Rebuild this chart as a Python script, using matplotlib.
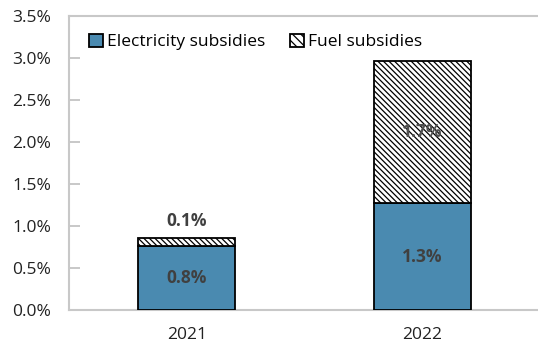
import matplotlib
matplotlib.use("Agg")
import matplotlib.pyplot as plt
from matplotlib.patches import Patch
import numpy as np

plt.rcParams['font.family'] = ['Open Sans', 'DejaVu Sans']
plt.rcParams['hatch.linewidth'] = 0.9

years = ["2021", "2022"]
electricity = [0.76, 1.27]
fuel = [0.10, 1.69]
elec_labels = ["0.8%", "1.3%"]
fuel_labels = ["0.1%", "1.7%"]
yticks = [0.0, 0.5, 1.0, 1.5, 2.0, 2.5, 3.0, 3.5]

blue = '#4a8ab0'
W, H = 538, 344
fig = plt.figure(figsize=(W/100, H/100), dpi=100)
ax = fig.add_axes([69/W, (H-310)/H, 471/W, 294/H])

x = np.arange(len(years))
bw = 0.41
ax.bar(x, electricity, bw, color=blue, edgecolor='black', linewidth=1.3, zorder=3)
ax.bar(x, fuel, bw, bottom=electricity, color='white', edgecolor='black',
       hatch='\\' * 6, linewidth=1.3, zorder=3)

ax.set_xlim(-0.5, 1.5)
ax.set_ylim(0, 3.5)
ax.set_yticks(yticks)
ax.set_yticklabels([f"{v:.1f}%" for v in yticks], fontsize=12.5, color='#222222')
ax.set_xticks(x)
ax.set_xticklabels(years, fontsize=12.5, color='#222222')
ax.tick_params(axis='y', direction='in', length=8, width=1.2, color='#bfbfbf', pad=13)
ax.tick_params(axis='x', length=0, pad=12)
for s in ['left', 'bottom', 'top', 'right']:
    ax.spines[s].set_color('#c8c8c8')
    ax.spines[s].set_linewidth(1.5)

lab_color = '#404040'
for i in range(len(years)):
    ax.text(x[i], electricity[i]/2, elec_labels[i], ha='center', va='center',
            fontsize=12.5, fontweight='bold', color=lab_color, zorder=5)
ax.text(x[0], electricity[0] + fuel[0] + 0.2, fuel_labels[0], ha='center', va='center',
        fontsize=12.5, fontweight='bold', color=lab_color, zorder=5)
ax.text(x[1], electricity[1] + fuel[1]/2, fuel_labels[1], ha='center', va='center',
        fontsize=12.5, fontweight='bold', color='#505050', zorder=5)

handles = [Patch(facecolor=blue, edgecolor='black', linewidth=1.3, label='Electricity subsidies'),
           Patch(facecolor='white', edgecolor='black', hatch='\\' * 4, linewidth=1.3, label='Fuel subsidies')]
ax.legend(handles=handles, loc='upper left', bbox_to_anchor=(0.02, 0.975), ncol=2, frameon=False,
          fontsize=12.5, handlelength=0.8, handleheight=0.8, handletextpad=0.25, columnspacing=1.4,
          borderaxespad=0.2)

fig.text(293/W, 1.0 + 4/H, "(% of GDP)", ha='center', va='baseline', fontsize=13,
         fontweight='bold', color='#2f7fc1')

fig.savefig("out.png", dpi=100)
